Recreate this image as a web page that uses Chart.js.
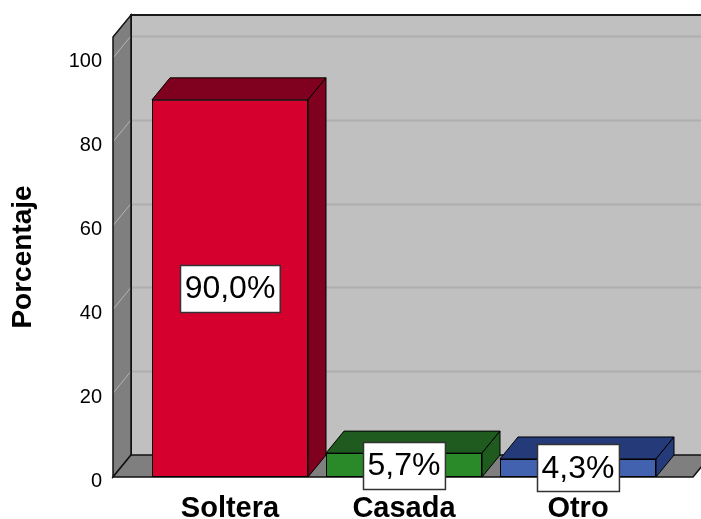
<!DOCTYPE html>
<html>
<head>
<meta charset="utf-8">
<script src="https://cdn.jsdelivr.net/npm/chart.js@4.4.0/dist/chart.umd.min.js"></script>
<style>
  html, body { margin: 0; padding: 0; background: #ffffff; }
  #wrap { width: 701px; height: 519px; }
</style>
</head>
<body>
<div id="wrap"><canvas id="c" width="701" height="519"></canvas></div>
<script>
// ---- Data ----
const categories = ['Soltera', 'Casada', 'Otro'];
const values = [90.0, 5.7, 4.3];
const yTicks = [0, 20, 40, 60, 80, 100];
const yTitle = 'Porcentaje';

// ---- Style ----
const frontColors = ['#D6002F', '#2A8A2A', '#4262B0'];
const darkColors = ['#80001F', '#1F5A1F', '#253A78'];
const DX = 18, DY = -22;
const FONT = '"Liberation Sans", Arial, sans-serif';

function fmtPct(v) { return v.toFixed(1).replace('.', ',') + '%'; }

function poly(ctx, pts, fill, stroke, lw) {
  ctx.beginPath();
  ctx.moveTo(pts[0][0], pts[0][1]);
  for (let i = 1; i < pts.length; i++) ctx.lineTo(pts[i][0], pts[i][1]);
  ctx.closePath();
  if (fill) { ctx.fillStyle = fill; ctx.fill(); }
  if (stroke) { ctx.strokeStyle = stroke; ctx.lineWidth = lw || 1; ctx.stroke(); }
}

const threeD = {
  id: 'threeD',
  beforeDatasetsDraw(chart) {
    const { ctx, chartArea: a, scales: { y } } = chart;
    const fl = a.left - 30, fr = a.right + 28;
    const top = a.top, bot = y.getPixelForValue(0);
    const W = chart.width + 30;
    ctx.save();
    // back wall
    ctx.fillStyle = '#C0C0C0';
    ctx.fillRect(fl + DX, top + DY, W - (fl + DX), bot - top);
    // back wall gridlines
    ctx.strokeStyle = '#AEAEAE';
    ctx.lineWidth = 2;
    yTicks.forEach(t => {
      if (t === 0) return;
      const py = Math.round(y.getPixelForValue(t) + DY) + 0.5;
      ctx.beginPath(); ctx.moveTo(fl + DX, py); ctx.lineTo(W, py); ctx.stroke();
    });
    // back wall top and left borders
    ctx.strokeStyle = '#1a1a1a';
    ctx.lineWidth = 2;
    ctx.beginPath();
    ctx.moveTo(W, top + DY); ctx.lineTo(fl + DX, top + DY); ctx.lineTo(fl + DX, bot + DY);
    ctx.stroke();
    // left wall
    poly(ctx, [[fl, top], [fl + DX, top + DY], [fl + DX, bot + DY], [fl, bot]], '#7F7F7F');
    ctx.strokeStyle = '#B4B4B4';
    ctx.lineWidth = 1;
    yTicks.forEach(t => {
      const py = y.getPixelForValue(t);
      ctx.beginPath(); ctx.moveTo(fl, py); ctx.lineTo(fl + DX, py + DY); ctx.stroke();
    });
    poly(ctx, [[fl, top], [fl + DX, top + DY], [fl + DX, bot + DY], [fl, bot]], null, '#111', 1.5);
    // floor
    poly(ctx, [[fl, bot], [fl + DX, bot + DY], [fr + DX, bot + DY], [fr, bot]], '#7F7F7F', '#111', 1.5);
    ctx.restore();
  },
  afterDatasetsDraw(chart) {
    const { ctx, scales: { y } } = chart;
    const meta = chart.getDatasetMeta(0);
    ctx.save();
    ctx.lineJoin = 'miter';
    meta.data.forEach((bar, i) => {
      const p = bar.getProps(['x', 'y', 'base', 'width'], true);
      const l = p.x - p.width / 2, r = p.x + p.width / 2;
      const ty = p.y, b = p.base;
      poly(ctx, [[l, ty], [l + DX, ty + DY], [r + DX, ty + DY], [r, ty]], darkColors[i], '#000', 1);
      poly(ctx, [[r, ty], [r + DX, ty + DY], [r + DX, b + DY], [r, b]], darkColors[i], '#000', 1);
    });
    // value labels
    ctx.font = '32px ' + FONT;
    ctx.textAlign = 'center';
    ctx.textBaseline = 'middle';
    meta.data.forEach((bar, i) => {
      const p = bar.getProps(['x'], true);
      const txt = fmtPct(values[i]);
      const cy = y.getPixelForValue(values[i] / 2);
      const w = ctx.measureText(txt).width + 9;
      const h = 47;
      const bx = Math.round(p.x - w / 2) + 0.5, by = Math.round(cy - h / 2) + 0.5;
      ctx.fillStyle = '#FFFFFF';
      ctx.fillRect(bx, by, w, h);
      ctx.strokeStyle = '#333';
      ctx.lineWidth = 1.5;
      ctx.strokeRect(bx, by, w, h);
      ctx.fillStyle = '#000';
      ctx.fillText(txt, p.x, cy + 1);
    });
    ctx.restore();
  }
};

function noPad(s) { s.paddingTop = 0; s.paddingBottom = 0; s.paddingLeft = 0; s.paddingRight = 0; }

new Chart(document.getElementById('c'), {
  type: 'bar',
  data: {
    labels: categories,
    datasets: [{
      data: values,
      backgroundColor: frontColors,
      borderColor: '#000',
      borderWidth: 1,
      borderSkipped: false,
      categoryPercentage: 1.0,
      barPercentage: 0.8966
    }]
  },
  plugins: [threeD],
  options: {
    responsive: false,
    animation: false,
    layout: { padding: { top: 37, right: 36, left: 0, bottom: 0 } },
    plugins: { legend: { display: false }, tooltip: { enabled: false } },
    scales: {
      x: {
        grid: { display: false, drawTicks: false },
        border: { display: false },
        ticks: { color: '#000', font: { family: FONT, size: 29, weight: 'bold' }, padding: 15, maxRotation: 0 },
        afterFit(s) { s.height = 42; noPad(s); }
      },
      y: {
        min: 0, max: 105,
        afterBuildTicks(s) { s.ticks = yTicks.map(v => ({ value: v })); },
        grid: { display: false, drawTicks: false },
        border: { display: false },
        ticks: { color: '#000', font: { family: FONT, size: 20 }, padding: 41, labelOffset: 4 },
        title: { display: true, text: yTitle, color: '#000', font: { family: FONT, size: 28, weight: 'bold' }, padding: { top: 6, bottom: 0 } },
        afterFit(s) { s.width = 143; noPad(s); }
      }
    }
  }
});
</script>
</body>
</html>
